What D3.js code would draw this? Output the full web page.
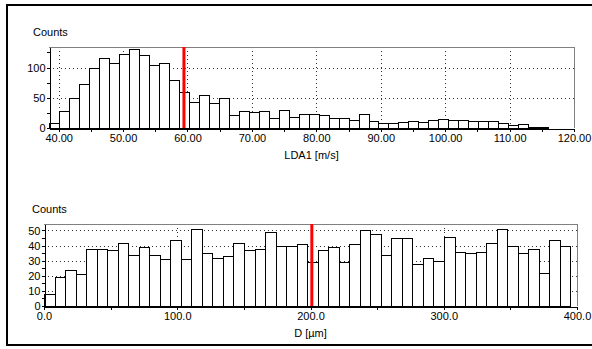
<!DOCTYPE html>
<html>
<head>
<meta charset="utf-8">
<script src="https://cdn.jsdelivr.net/npm/d3@7/dist/d3.min.js"></script>
<style>
  body { margin: 0; background: #fff; }
  svg { display: block; font-family: "Liberation Sans", Arial, sans-serif; font-size: 11px; }
  .bar { fill: #fff; stroke: #000; stroke-width: 1; shape-rendering: crispEdges; }
  .grid line { stroke: #333; stroke-dasharray: 1,3; shape-rendering: crispEdges; }
  .axis path, .axis line { stroke: #000; shape-rendering: crispEdges; }
  .axis text { fill: #000; font-size: 11px; font-family: "Liberation Sans", Arial, sans-serif; }
</style>
</head>
<body>
<svg id="chart" width="592" height="349"></svg>
<script>
// velocity histogram (LDA1)
const ldaBinStart = 38.5;
const ldaBinWidth = 1.55;
const ldaCounts = [9, 28, 49, 73, 100, 116, 107, 123, 130, 120,
  104, 108, 80, 60, 43, 54, 41, 49, 21, 28,
  26, 28, 17, 29, 18, 23, 23, 21, 16, 16,
  14, 23, 11, 9, 9, 10, 11, 10, 13, 15,
  13, 14, 11, 12, 11, 8, 5, 6, 2, 2];
const ldaXTicks = [40, 50, 60, 70, 80, 90, 100, 110, 120];
const ldaXMinor = [45, 55, 65, 75, 85, 95, 105, 115];
const ldaYTicks = [0, 50, 100];
const ldaYMinor = [25, 75, 125];
const ldaMarker = 59.45;

// diameter histogram (D)
const diaBinStart = 0;
const diaBinWidth = 7.9;
const diaCounts = [8, 19, 24, 21, 38, 38, 37, 42, 34, 39,
  34, 31, 44, 31, 51, 35, 32, 33, 42, 37,
  38, 49, 40, 40, 41, 29, 37, 39, 29, 41,
  50, 48, 34, 45, 45, 28, 32, 30, 46, 36,
  35, 36, 42, 51, 40, 35, 38, 22, 44, 40];
const diaXTicks = [0, 100, 200, 300, 400];
const diaXMinor = [50, 150, 250, 350];
const diaYTicks = [0, 10, 20, 30, 40, 50];
const diaYMinor = [5, 15, 25, 35, 45];
const diaMarker = 201;

const svg = d3.select('#chart');

// outer frame
svg.append('rect')
  .attr('x', 7).attr('y', 5)
  .attr('width', 600).attr('height', 340)
  .attr('fill', 'none')
  .attr('stroke', '#000')
  .attr('stroke-width', 2);

function histogram(opt) {
  const x = d3.scaleLinear().domain(opt.xDomain).range([opt.left, opt.right]);
  const y = d3.scaleLinear().domain(opt.yDomain).range([opt.bottom, opt.top]);
  const g = svg.append('g');

  // dotted grid
  const grid = g.append('g').attr('class', 'grid');
  grid.selectAll('.gy')
    .data(opt.yTicks.filter(d => d > 0))
    .join('line')
    .attr('x1', opt.left).attr('x2', opt.right)
    .attr('y1', d => Math.round(y(d)) + 0.5).attr('y2', d => Math.round(y(d)) + 0.5);
  grid.selectAll('.gx')
    .data(opt.xTicks.filter(d => x(d) > opt.left + 1 && x(d) < opt.right - 1))
    .join('line')
    .attr('y1', opt.top).attr('y2', opt.bottom)
    .attr('x1', d => Math.round(x(d)) + 0.5).attr('x2', d => Math.round(x(d)) + 0.5);

  // bars
  g.selectAll('.bar')
    .data(opt.counts)
    .join('rect')
    .attr('class', 'bar')
    .attr('x', (d, i) => Math.round(x(opt.binStart + i * opt.binWidth)) + 0.5)
    .attr('width', (d, i) => Math.round(x(opt.binStart + (i + 1) * opt.binWidth)) - Math.round(x(opt.binStart + i * opt.binWidth)))
    .attr('y', d => Math.round(y(d)) + 0.5)
    .attr('height', d => Math.round(y(0)) - Math.round(y(d)));

  // grey frame top/right
  g.append('path')
    .attr('d', `M${opt.left},${opt.top + 0.5}H${opt.right + 0.5}V${opt.bottom}`)
    .attr('fill', 'none')
    .attr('stroke', '#808080')
    .attr('shape-rendering', 'crispEdges');

  // marker
  g.append('line')
    .attr('x1', x(opt.marker)).attr('x2', x(opt.marker))
    .attr('y1', opt.top).attr('y2', opt.bottom)
    .attr('stroke', '#ff0000')
    .attr('stroke-width', 3);

  // axes
  const xAxis = d3.axisBottom(x)
    .tickValues(opt.xTicks.concat(opt.xMinor))
    .tickSize(3).tickSizeOuter(0).tickPadding(3)
    .tickFormat(d => opt.xTicks.includes(d) ? opt.xFormat(d) : '');
  g.append('g').attr('class', 'axis')
    .attr('transform', `translate(0,${opt.bottom + 0.5})`)
    .call(xAxis);

  const yAxis = d3.axisLeft(y)
    .tickValues(opt.yTicks.concat(opt.yMinor))
    .tickSize(3).tickSizeOuter(0).tickPadding(1)
    .tickFormat(d => opt.yTicks.includes(d) ? d : '');
  g.append('g').attr('class', 'axis')
    .attr('transform', `translate(${opt.left + 0.5},0)`)
    .call(yAxis);

  g.append('text')
    .attr('x', opt.countsX).attr('y', opt.top - 11)
    .text('Counts');

  g.append('text')
    .attr('x', (opt.left + opt.right) / 2)
    .attr('y', opt.bottom + 31)
    .attr('text-anchor', 'middle')
    .text(opt.xLabel);
}

histogram({
  left: 49, right: 574, top: 47, bottom: 128,
  xDomain: [38.5, 120], yDomain: [0, 134],
  counts: ldaCounts, binStart: ldaBinStart, binWidth: ldaBinWidth,
  xTicks: ldaXTicks, xMinor: ldaXMinor, yTicks: ldaYTicks, yMinor: ldaYMinor,
  xFormat: d3.format('.2f'), marker: ldaMarker,
  xLabel: 'LDA1 [m/s]', countsX: 33
});

histogram({
  left: 44, right: 577, top: 224, bottom: 306,
  xDomain: [0, 400], yDomain: [0, 54.3],
  counts: diaCounts, binStart: diaBinStart, binWidth: diaBinWidth,
  xTicks: diaXTicks, xMinor: diaXMinor, yTicks: diaYTicks, yMinor: diaYMinor,
  xFormat: d3.format('.1f'), marker: diaMarker,
  xLabel: 'D [µm]', countsX: 32
});
</script>
</body>
</html>
